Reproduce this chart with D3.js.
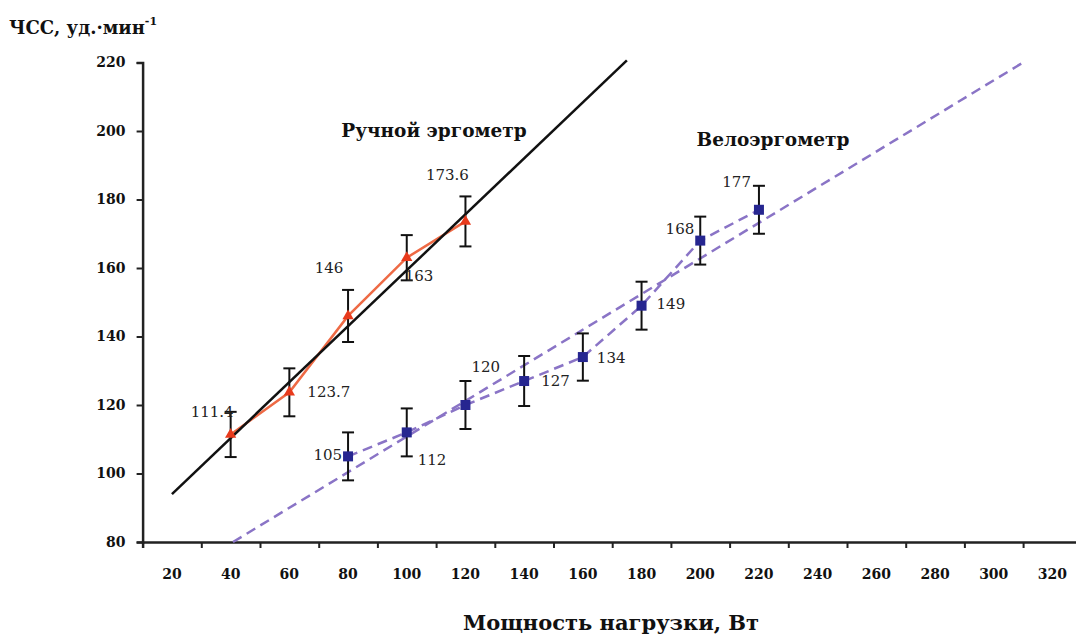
<!DOCTYPE html>
<html>
<head>
<meta charset="utf-8">
<script src="https://cdn.jsdelivr.net/npm/d3@7"></script>
<style>
  body { margin: 0; background: #fff; }
</style>
</head>
<body>
<div class="canvas"></div>
<script>
// tick labels
const xTicks = [20, 40, 60, 80, 100, 120, 140, 160, 180, 200, 220, 240, 260, 280, 300, 320];
const yTicks = [80, 100, 120, 140, 160, 180, 200, 220];

// hand ergometer
const armLoad = [40, 60, 80, 100, 120];
const armHr = [111.4, 123.7, 146, 163, 173.6];
const armErr = [6.6, 7, 7.6, 6.6, 7.3];
const armLabels = ['111.4', '123.7', '146', '163', '173.6'];
const armTrend = [[20, 94], [175, 220.6]];

// cycle ergometer
const bikeLoad = [80, 100, 120, 140, 160, 180, 200, 220];
const bikeHr = [105, 112, 120, 127, 134, 149, 168, 177];
const bikeErr = [7, 7, 7, 7.3, 6.9, 7, 7, 7];
const bikeLabels = ['105', '112', '120', '127', '134', '149', '168', '177'];
const bikeTrend = [[40.8, 80], [310, 220]];

// label placement (pixel offsets from the point, anchor)
const armLabelPos = [[3, -17, 'end'], [18, 5, 'start'], [-19, -43, 'middle'], [-2, 23, 'start'], [-18, -41, 'middle']];
const bikeLabelPos = [[-6, 4, 'end'], [11, 33, 'start'], [6, -33, 'start'], [17, 5, 'start'], [14, 6, 'start'], [15, 3, 'start'], [-6, -7, 'end'], [-8, -23, 'end']];

const FONT = "'DejaVu Serif', serif";

const width = 1076;
const height = 639;

const svg = d3
  .select('.canvas')
  .append('svg')
  .attr('width', width)
  .attr('height', height)
  .attr('font-family', FONT);

//scales
const x = d3.scaleLinear().domain([10, 330]).range([142.6, 1081.8]);
const y = d3.scaleLinear().domain([80, 220]).range([542, 62.5]);

//axes
const xAxis = d3.axisBottom(x)
  .tickValues(d3.range(30, 330, 20))
  .tickSize(6)
  .tickFormat('');
svg.append('g')
  .attr('transform', `translate(0, ${y(80)})`)
  .call(xAxis)
  .call((g) => g.select('.domain').attr('stroke', '#222').attr('stroke-width', 2.5))
  .call((g) => g.selectAll('.tick line').attr('stroke', '#222').attr('stroke-width', 2));

svg.append('g')
  .selectAll('text')
  .data(xTicks)
  .enter()
  .append('text')
  .attr('x', (d) => x(d))
  .attr('y', y(80) + 37)
  .attr('text-anchor', 'middle')
  .attr('font-size', 14)
  .attr('font-weight', 'bold')
  .attr('fill', '#111')
  .text((d) => d);

const yAxis = d3.axisLeft(y).tickValues(yTicks).tickSize(6).tickPadding(11);
svg.append('g')
  .attr('transform', `translate(${x(10)}, 0)`)
  .call(yAxis)
  .attr('font-family', FONT)
  .call((g) => g.select('.domain').attr('stroke', '#222').attr('stroke-width', 2.5))
  .call((g) => g.selectAll('.tick line').attr('stroke', '#222').attr('stroke-width', 2))
  .call((g) => g.selectAll('.tick text').attr('font-size', 14).attr('font-weight', 'bold').attr('fill', '#111'));

//axis titles
const yTitle = svg.append('text').attr('x', 9).attr('y', 34).attr('font-size', 18).attr('font-weight', 'bold').attr('fill', '#111');
yTitle.append('tspan').text('ЧСС, уд.·мин');
yTitle.append('tspan').attr('dy', -9).attr('font-size', 11).text('-1');

svg.append('text')
  .attr('x', 611)
  .attr('y', 630)
  .attr('text-anchor', 'middle')
  .attr('font-size', 21)
  .attr('font-weight', 'bold')
  .attr('fill', '#111')
  .text('Мощность нагрузки, Вт');

svg.append('text').attr('x', 434).attr('y', 137).attr('text-anchor', 'middle').attr('font-size', 18.5).attr('font-weight', 'bold').attr('fill', '#111').text('Ручной эргометр');
svg.append('text').attr('x', 773).attr('y', 146).attr('text-anchor', 'middle').attr('font-size', 18.5).attr('font-weight', 'bold').attr('fill', '#111').text('Велоэргометр');

//line generator
const line = d3.line().x((d) => x(d[0])).y((d) => y(d[1]));

const armData = armLoad.map((d, i) => [d, armHr[i]]);
const bikeData = bikeLoad.map((d, i) => [d, bikeHr[i]]);

//dashed lines for cycle ergometer
svg.append('path')
  .datum(bikeTrend)
  .attr('d', line)
  .attr('fill', 'none')
  .attr('stroke', '#8a74c6')
  .attr('stroke-width', 2.5)
  .attr('stroke-dasharray', '10,6');

svg.append('path')
  .datum(bikeData)
  .attr('d', line)
  .attr('fill', 'none')
  .attr('stroke', '#8a74c6')
  .attr('stroke-width', 2.5)
  .attr('stroke-dasharray', '10,6');

//error bars
const drawErrors = (data, err) => {
  const g = svg.append('g').attr('stroke', '#111').attr('stroke-width', 2);
  data.forEach((d, i) => {
    const cx = x(d[0]);
    const top = y(d[1] + err[i]);
    const bot = y(d[1] - err[i]);
    g.append('line').attr('x1', cx).attr('x2', cx).attr('y1', top).attr('y2', bot);
    g.append('line').attr('x1', cx - 6).attr('x2', cx + 6).attr('y1', top).attr('y2', top);
    g.append('line').attr('x1', cx - 6).attr('x2', cx + 6).attr('y1', bot).attr('y2', bot);
  });
};
drawErrors(armData, armErr);
drawErrors(bikeData, bikeErr);

//hand ergometer line
svg.append('path')
  .datum(armData)
  .attr('d', line)
  .attr('fill', 'none')
  .attr('stroke', '#ee6a45')
  .attr('stroke-width', 2.5);

//regression line
svg.append('path')
  .datum(armTrend)
  .attr('d', line)
  .attr('fill', 'none')
  .attr('stroke', '#111')
  .attr('stroke-width', 2.5);

//markers
svg.append('g')
  .selectAll('path')
  .data(armData)
  .enter()
  .append('path')
  .attr('d', d3.symbol().type(d3.symbolTriangle).size(55))
  .attr('transform', (d) => `translate(${x(d[0])}, ${y(d[1])})`)
  .attr('fill', '#e83a1c');

svg.append('g')
  .selectAll('rect')
  .data(bikeData)
  .enter()
  .append('rect')
  .attr('x', (d) => x(d[0]) - 5)
  .attr('y', (d) => y(d[1]) - 5)
  .attr('width', 10)
  .attr('height', 10)
  .attr('fill', '#262690');

//value labels
const drawLabels = (data, labels, pos) => {
  svg.append('g')
    .selectAll('text')
    .data(data)
    .enter()
    .append('text')
    .attr('x', (d, i) => x(d[0]) + pos[i][0])
    .attr('y', (d, i) => y(d[1]) + pos[i][1])
    .attr('text-anchor', (d, i) => pos[i][2])
    .attr('font-size', 15)
    .attr('fill', '#222')
    .text((d, i) => labels[i]);
};
drawLabels(armData, armLabels, armLabelPos);
drawLabels(bikeData, bikeLabels, bikeLabelPos);
</script>
</body>
</html>
